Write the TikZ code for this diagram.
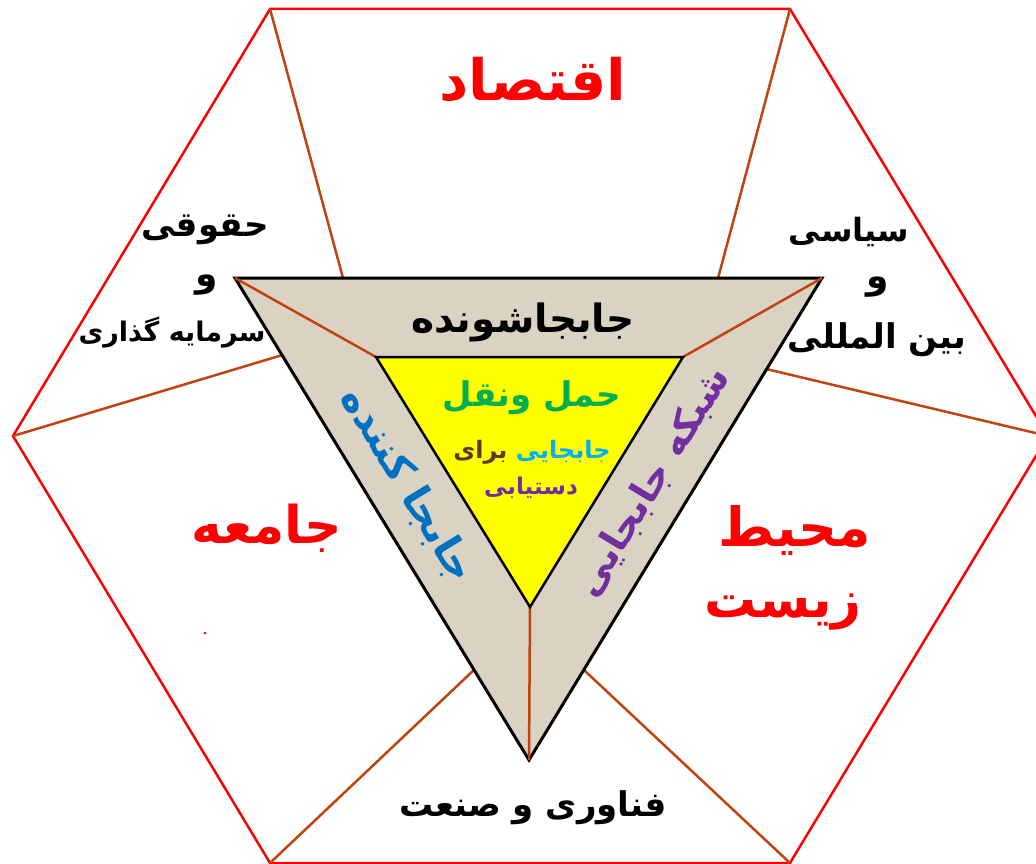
\documentclass[tikz,border=0pt]{standalone}
\usepackage{fontspec}
\usepackage{tikz}
\usetikzlibrary{calc}
\TeXXeTstate=1
\newfontfamily\fa[Script=Arabic]{DejaVu Sans}
\definecolor{hexred}{HTML}{FF0000}
\definecolor{spoke}{HTML}{C0440F}
\definecolor{band}{HTML}{DAD3C3}
\definecolor{core}{HTML}{FFFF00}
\definecolor{tgreen}{HTML}{00B050}
\definecolor{tsky}{HTML}{00B0F0}
\definecolor{tbrown}{HTML}{603828}
\definecolor{tpurple}{HTML}{7030A0}
\definecolor{tblue}{HTML}{0070C0}
\tikzset{
  fatxt/.style={font=\fa\bfseries\fontsize{#1}{#1}\selectfont,inner sep=0pt},
  hexline/.style={draw=hexred,line width=2.5pt,line join=miter},
  spokeline/.style={draw=spoke,line width=2.5pt},
}

\begin{document}
\begin{tikzpicture}[x=1pt,y=-1pt]
  \useasboundingbox (0,0) rectangle (1036,864);
  \clip (0,0) rectangle (1036,864);
  % outer hexagon
  \coordinate (h1) at (270,9);
  \coordinate (h2) at (790,9);
  \coordinate (h3) at (1048,436);
  \coordinate (h4) at (790,863);
  \coordinate (h5) at (270,863);
  \coordinate (h6) at (13,436);
  \draw[hexline] (h1) -- (h2) -- (h3) -- (h4) -- (h5) -- (h6) -- cycle;
  % triangles
  \coordinate (tl) at (235,278);
  \coordinate (tr) at (822,278);
  \coordinate (tb) at (529,760);
  \coordinate (il) at (376,357);
  \coordinate (ir) at (683,357);
  \coordinate (ib) at (530,607);
  \coordinate (s1) at ($(tl)!0.184!(tr)$);
  \coordinate (s2) at ($(tl)!0.823!(tr)$);
  \coordinate (s3) at ($(tr)!0.189!(tb)$);
  \coordinate (s4) at ($(tr)!0.813!(tb)$);
  \coordinate (s5) at ($(tl)!0.813!(tb)$);
  \coordinate (s6) at ($(tl)!0.16!(tb)$);
  \draw[spokeline] (h1) -- (s1) (h2) -- (s2) (h3) -- (s3)
    (h4) -- (s4) (h5) -- (s5) (h6) -- (s6);
  \filldraw[fill=band,draw=black,line width=3pt] (tl) -- (tr) -- (tb) -- cycle;
  \draw[spokeline] (tl) -- (il) (tr) -- (ir) (tb) -- (ib);
  \filldraw[fill=core,draw=black,line width=2.5pt] (il) -- (ir) -- (ib) -- cycle;
  \fill[hexred] (205,633) circle (1.5);
  % labels
  \node[fatxt=57,text=hexred] (econ) at (533,80) {\beginR اقتصاد\endR};
  \node[fatxt=34] (law1) at (205,230) {\beginR حقوقی\endR};
  \node[fatxt=36] (law2) at (207,285) {\beginR و\endR};
  \node[fatxt=27] (law3) at (172,333) {\beginR سرمایه گذاری\endR};
  \node[fatxt=32] (pol1) at (849,232) {\beginR سیاسی\endR};
  \node[fatxt=36] (pol2) at (878,287) {\beginR و\endR};
  \node[fatxt=34] (pol3) at (877,340) {\beginR بین المللی\endR};
  \node[fatxt=39] (moved) at (523,322) {\beginR جابجاشونده\endR};
  \node[fatxt=34,text=tgreen] (core1) at (532,398) {\beginR حمل ونقل\endR};
  \node[fatxt=24] (core2) at (532,452)
    {{\color{tbrown}\beginR برای\endR} {\color{tsky}\beginR جابجایی\endR}};
  \node[fatxt=23,text=tpurple] (core3) at (531,488) {\beginR دستیابی\endR};
  \node[fatxt=40,text=tblue,rotate=-58.6] (mover) at (407,485) {\beginR جابجا کننده\endR};
  \node[fatxt=38,text=tpurple,rotate=58.7] (net) at (653,482) {\beginR شبکه جابجایی\endR};
  \node[fatxt=52,text=hexred] (soc) at (267,528) {\beginR جامعه\endR};
  \node[fatxt=54,text=hexred] (env1) at (795,530) {\beginR محیط\endR};
  \node[fatxt=52,text=hexred] (env2) at (783,612) {\beginR زیست\endR};
  \node[fatxt=34] (tech) at (533,808) {\beginR فناوری و صنعت\endR};
\end{tikzpicture}
\end{document}
